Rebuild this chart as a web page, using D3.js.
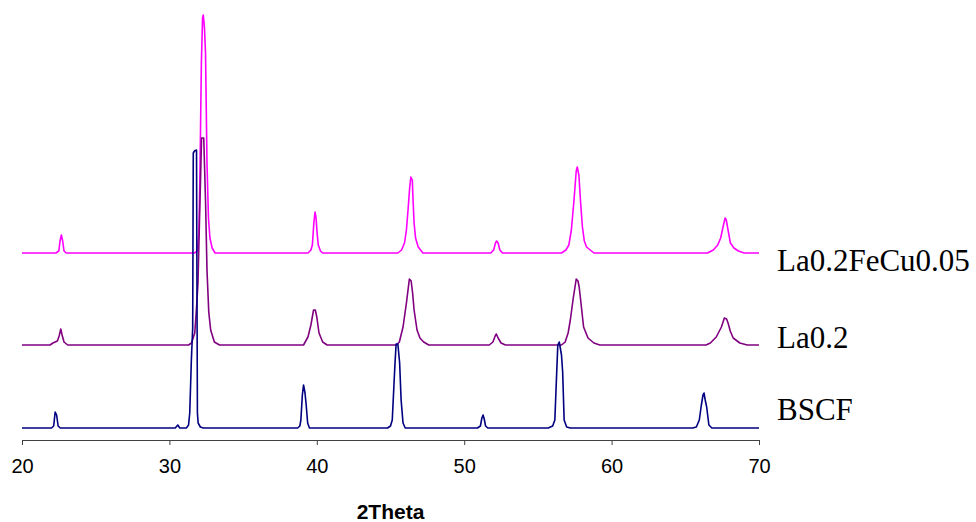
<!DOCTYPE html>
<html>
<head>
<meta charset="utf-8">
<script src="https://cdn.jsdelivr.net/npm/d3@7"></script>
<style>
  body { margin: 0; background: #fff; }
  svg { display: block; }
</style>
</head>
<body>
<svg id="chart"></svg>
<script>
// data: [2theta, intensity above the pattern's own baseline]
var bscf = [
  [20, 0], [22.0, 0], [22.15, 2], [22.25, 16], [22.35, 13], [22.45, 2], [22.6, 0],
  [30.4, 0], [30.57, 3], [30.7, 0],
  [31.15, 0], [31.3, 3], [31.38, 15], [31.49, 68], [31.58, 100], [31.62, 275], [31.7, 277],
  [31.84, 278], [31.88, 100], [31.9, 15], [31.95, 5], [32.1, 1], [32.3, 0],
  [38.7, 0], [38.85, 2], [38.92, 8], [39.02, 33], [39.1, 43], [39.2, 35], [39.28, 23], [39.38, 5], [39.5, 0],
  [44.8, 0], [45.0, 2], [45.12, 8], [45.25, 48], [45.3, 63], [45.38, 84], [45.5, 84], [45.62, 65],
  [45.72, 28], [45.85, 5], [46.0, 0],
  [50.9, 0], [51.1, 2], [51.2, 10], [51.28, 13], [51.36, 9], [51.45, 2], [51.6, 0],
  [55.7, 0], [56.0, 2], [56.15, 8], [56.25, 46], [56.35, 83], [56.45, 86], [56.6, 73], [56.68, 56],
  [56.78, 8], [56.95, 1], [57.2, 0],
  [65.5, 0], [65.75, 1], [65.95, 8], [66.08, 22], [66.2, 33], [66.27, 35], [66.35, 28], [66.45, 21],
  [66.6, 3], [66.8, 0], [70, 0]
];
var la02 = [
  [20, 0], [21.9, 0], [22.1, 2], [22.4, 4], [22.52, 9], [22.63, 16], [22.72, 10], [22.85, 3], [23.1, 0],
  [31.3, 0], [31.5, 2], [31.72, 12], [31.83, 35], [31.94, 62], [32.05, 130], [32.12, 170], [32.18, 207],
  [32.33, 207], [32.45, 145], [32.55, 75], [32.67, 33], [32.8, 15], [33.05, 3], [33.4, 0],
  [39.1, 0], [39.4, 8], [39.6, 20], [39.78, 35], [39.9, 35], [40.0, 28], [40.15, 12], [40.4, 3], [40.7, 0],
  [45.4, 0], [45.6, 3], [45.85, 18], [46.08, 42], [46.28, 66], [46.4, 64], [46.5, 52], [46.6, 35],
  [46.8, 15], [47.0, 7], [47.25, 3], [47.6, 0],
  [51.7, 0], [51.95, 3], [52.1, 9], [52.18, 11], [52.3, 7], [52.5, 2], [52.8, 0],
  [56.6, 0], [56.85, 3], [57.05, 12], [57.2, 25], [57.4, 47], [57.6, 66], [57.72, 64], [57.8, 58],
  [57.9, 45], [58.1, 18], [58.4, 7], [58.8, 2], [59.2, 0],
  [66.4, 0], [66.7, 2], [67.1, 8], [67.45, 18], [67.65, 27], [67.8, 26], [67.9, 22], [68.05, 14],
  [68.25, 7], [68.7, 2], [69.2, 0], [70, 0]
];
var la02fecu = [
  [20, 0], [22.3, 0], [22.5, 2], [22.58, 12], [22.67, 18], [22.76, 12], [22.85, 2], [23.0, 0],
  [31.7, 0], [31.9, 2], [32.0, 20], [32.06, 66], [32.17, 190], [32.25, 235], [32.3, 238], [32.38, 225],
  [32.45, 200], [32.55, 90], [32.65, 35], [32.75, 15], [32.9, 5], [33.1, 0],
  [39.4, 0], [39.6, 3], [39.7, 8], [39.8, 30], [39.88, 41], [39.95, 35], [40.02, 20], [40.1, 8], [40.25, 2], [40.4, 0],
  [45.5, 0], [45.75, 3], [45.95, 10], [46.08, 23], [46.2, 45], [46.3, 65], [46.38, 76], [46.48, 73],
  [46.53, 53], [46.6, 30], [46.7, 15], [46.88, 6], [47.2, 0],
  [51.8, 0], [52.0, 3], [52.12, 10], [52.2, 12], [52.3, 10], [52.42, 3], [52.6, 0],
  [56.6, 0], [56.9, 3], [57.1, 8], [57.27, 23], [57.45, 53], [57.6, 82], [57.67, 86], [57.78, 78],
  [57.9, 50], [58.02, 26], [58.15, 12], [58.3, 6], [58.8, 0],
  [66.5, 0], [66.9, 3], [67.2, 8], [67.4, 15], [67.56, 26], [67.7, 35], [67.78, 33], [67.9, 23],
  [68.06, 10], [68.3, 5], [68.6, 2], [69.0, 0], [70, 0]
];
var seriesNames = ["La0.2FeCu0.05", "La0.2", "BSCF"];
var seriesOffsets = [187, 95, 12];   // vertical stacking offset of each pattern
var xTicks = [20, 30, 40, 50, 60, 70];

// layout
var W = 976, H = 522;
var margin = { top: 0, left: 22, right: 217, bottom: 82 };
var colors = ["#ff00ff", "#800080", "#000080"];
var labelDy = [18, 3, -8];

var svg = d3.select("#chart").attr("width", W).attr("height", H);

var x = d3.scaleLinear().domain([20, 70]).range([margin.left, W - margin.right]);
var y = d3.scaleLinear().domain([0, 440]).range([H - margin.bottom, H - margin.bottom - 440]);

var line = d3.line()
  .x(function(d) { return x(d[0]); })
  .y(function(d) { return y(d[1]); });

var data = [la02fecu, la02, bscf];

// patterns, top one first so BSCF sits on top
data.forEach(function(s, i) {
  var off = seriesOffsets[i];
  svg.append("path")
    .attr("d", line(s.map(function(p) { return [p[0], p[1] + off]; })))
    .attr("fill", "none")
    .attr("stroke", colors[i])
    .attr("stroke-width", 1.6)
    .attr("stroke-linejoin", "round");
  svg.append("text")
    .attr("x", 777)
    .attr("y", y(off) + labelDy[i])
    .attr("font-family", "'Liberation Serif', 'Times New Roman', serif")
    .attr("font-size", 31)
    .attr("fill", "#000")
    .text(seriesNames[i]);
});

// x axis
var xAxis = d3.axisBottom(x).tickValues(xTicks).tickSize(5).tickSizeOuter(0).tickPadding(14);
var gx = svg.append("g")
  .attr("transform", "translate(0," + y(0) + ")")
  .call(xAxis);
gx.select(".domain").attr("stroke", "#404040");
gx.selectAll(".tick line").attr("stroke", "#404040");
gx.selectAll(".tick text")
  .attr("font-family", "'Liberation Sans', Arial, sans-serif")
  .attr("font-size", 20)
  .attr("fill", "#000");

svg.append("text")
  .attr("x", (x(20) + x(70)) / 2)
  .attr("y", 519)
  .attr("text-anchor", "middle")
  .attr("font-family", "'Liberation Sans', Arial, sans-serif")
  .attr("font-weight", "bold")
  .attr("font-size", 21)
  .attr("fill", "#000")
  .text("2Theta");
</script>
</body>
</html>
